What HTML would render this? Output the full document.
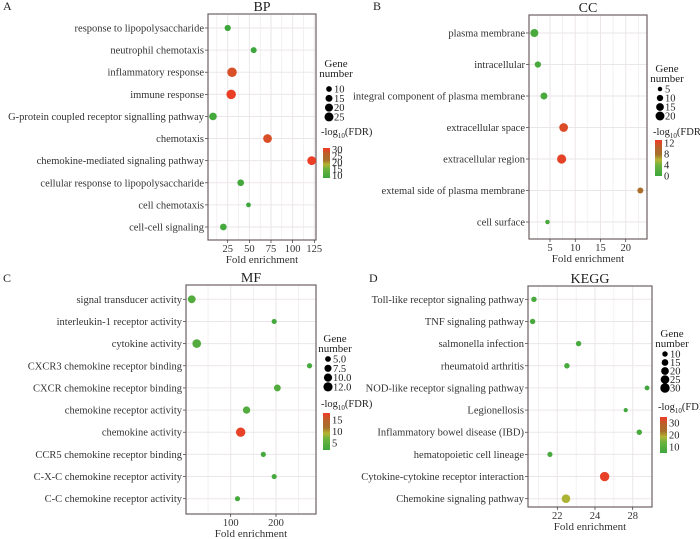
<!DOCTYPE html>
<html><head><meta charset="utf-8">
<style>
html,body{margin:0;padding:0;background:#fff;}
svg{display:block;font-family:"Liberation Serif",serif;}
</style></head>
<body>
<svg id="chart" width="700" height="539" viewBox="0 0 700 539" xmlns="http://www.w3.org/2000/svg">
<defs>
<linearGradient id="cg" x1="0" y1="1" x2="0" y2="0">
<stop offset="0" stop-color="#3da63c"/><stop offset="0.3" stop-color="#6db33f"/>
<stop offset="0.45" stop-color="#b4b432"/><stop offset="0.6" stop-color="#a6702c"/>
<stop offset="0.8" stop-color="#b8622a"/><stop offset="1" stop-color="#ef3a26"/>
</linearGradient>
</defs>
</svg>
<script>
// ---- Panel A (BP)
const bpTerms = ["response to lipopolysaccharide","neutrophil chemotaxis","inflammatory response","immune response","G-protein coupled receptor signalling pathway","chemotaxis","chemokine-mediated signaling pathway","cellular response to lipopolysaccharide","cell chemotaxis","cell-cell signaling"];
const bpFold = [25,55,30,29,8,71,122,40,49,20];
const bpGenes = [12,11,28,28,18,24,24,14,7,14];
const bpFDR = [8,8,27,30,9,27,30,9,8,9];
const bpTicks = [25,50,75,100,125];
const bpTickLabels = ["25","50","75","100","125"];
const bpSizeLegend = [10,15,20,25];
const bpColorTicks = [30,25,20,15,10];
// ---- Panel B (CC)
const ccTerms = ["plasma membrane","intracellular","integral component of plasma membrane","extracellular space","extracellular region","extemal side of plasma membrane","cell surface"];
const ccFold = [1.9,2.6,3.8,7.7,7.3,22.9,4.5];
const ccGenes = [16,10,12,19,21,9,5];
const ccFDR = [1,1,1,11,12,8,1];
const ccTicks = [5,10,15,20];
const ccTickLabels = ["5","10","15","20"];
const ccSizeLegend = [5,10,15,20];
const ccColorTicks = [12,8,4,0];
// ---- Panel C (MF)
const mfTerms = ["signal transducer activity","interleukin-1 receptor activity","cytokine activity","CXCR3 chemokine receptor binding","CXCR chemokine receptor binding","chemokine receptor activity","chemokine activity","CCR5 chemokine receptor binding","C-X-C chemokine receptor activity","C-C chemokine receptor activity"];
const mfFold = [14,196,25,274,203,135,122,172,196,115];
const mfGenes = [9,4,11,4,7,8,13,4,4,4];
const mfFDR = [4,3,4,3,4,4,17,3,3,3];
const mfTicks = [100,200];
const mfTickLabels = ["100","200"];
const mfSizeLegend = [5.0,7.5,10.0,12.5];
const mfSizeLabels = ["5.0","7.5","10.0","12.0"];
const mfColorTicks = [15,10,5];
// ---- Panel D (KEGG)
const kgTerms = ["Toll-like receptor signaling pathway","TNF signaling pathway","salmonella infection","rheumatoid arthritis","NOD-like receptor signaling pathway","Legionellosis","Inflammatory bowel disease (IBD)","hematopoietic cell lineage","Cytokine-cytokine receptor interaction","Chemokine signaling pathway"];
const kgFold = [20.76,20.69,23.13,22.51,26.76,25.63,26.35,21.61,24.51,22.46];
const kgGenes = [10,10,10,10,8,6,10,9,30,25];
const kgFDR = [7,7,7,7,6,6,7,7,33,18];
const kgTicks = [22,24,26];
const kgTickLabels = ["22","24","28"];
const kgSizeLegend = [10,15,20,25,30];
const kgColorTicks = [30,20,10];

const NS="http://www.w3.org/2000/svg";
const svg=document.getElementById('chart');
function el(tag,attrs,parent){const e=document.createElementNS(NS,tag);for(const k in attrs)e.setAttribute(k,attrs[k]);(parent||svg).appendChild(e);return e;}
function txt(s,attrs,parent){const e=el('text',attrs,parent);e.textContent=s;return e;}
function hex(c){return [1,3,5].map(i=>parseInt(c.substr(i,2),16));}
const stops=[[0,"#3da63c"],[0.3,"#6db33f"],[0.45,"#b4b432"],[0.6,"#a6702c"],[0.8,"#d65228"],[1,"#ef3a26"]];
function colorAt(t){t=Math.max(0,Math.min(1,t));for(let i=1;i<stops.length;i++){if(t<=stops[i][0]){const a=stops[i-1],b=stops[i];const f=(t-a[0])/(b[0]-a[0]);const ca=hex(a[1]),cb=hex(b[1]);return 'rgb('+ca.map((v,j)=>Math.round(v+(cb[j]-v)*f)).join(',')+')';}}return stops[stops.length-1][1];}

function panel(o){
  const g=el('g',{});
  
  
  const L=txt(o.letter,{x:o.lx,y:o.ly,'font-size':12,fill:'#222'},g);
  
  const T=txt(o.title,{x:(o.x0+o.x1)/2,y:o.y0-3,'font-size':14,'text-anchor':'middle',fill:'#222'},g);
  
  const xs=v=>o.xa+(v-o.va)*(o.xb-o.xa)/(o.vb-o.va);
  const n=o.terms.length;
  const ys=i=>o.yFirst+i*(o.yLast-o.yFirst)/(n-1);
  const step=o.ticks[1]-o.ticks[0];
  for(let v=o.ticks[0]-step*1.5; v<=o.ticks[o.ticks.length-1]+step*1.5; v+=step/2){
    const x=xs(v); if(x<=o.x0+0.5||x>=o.x1-0.5) continue;
    const major=o.ticks.some(t=>Math.abs(t-v)<1e-9);
    el('line',{x1:x,x2:x,y1:o.y0,y2:o.y1,stroke:'#ebe6ea','stroke-width':major?1:0.6},g);
  }
  o.terms.forEach((t,i)=>{
    el('line',{x1:o.x0,x2:o.x1,y1:ys(i),y2:ys(i),stroke:'#ebe6ea','stroke-width':1},g);
    const lab=txt(t,{x:o.x0-4,y:ys(i)+3.5,'font-size':10.5,'text-anchor':'end',fill:'#333'},g);
    
    el('line',{x1:o.x0-3,x2:o.x0,y1:ys(i),y2:ys(i),stroke:'#333','stroke-width':0.7},g);
  });
  const box=el('rect',{x:o.x0,y:o.y0,width:o.x1-o.x0,height:o.y1-o.y0,fill:'none',stroke:'#6e6262','stroke-width':1.2},g);
  
  o.ticks.forEach((t,i)=>{
    const x=xs(t);
    el('line',{x1:x,x2:x,y1:o.y1,y2:o.y1+3,stroke:'#333','stroke-width':0.7},g);
    const tl=txt(o.tickLabels[i],{x:x,y:o.y1+12,'font-size':10.5,'text-anchor':'middle',fill:'#333'},g);
    
  });
  const xt=txt('Fold enrichment',{x:(o.x0+o.x1)/2,y:o.y1+23,'font-size':11,'text-anchor':'middle',fill:'#333'},g);
  
  const rs=v=>o.k*Math.sqrt(v);
  const cs=v=>colorAt((v-o.cmin)/(o.cmax-o.cmin));
  o.terms.forEach((t,i)=>{
    const c=el('circle',{cx:xs(o.fold[i]),cy:ys(i),r:rs(o.genes[i]),fill:cs(o.fdr[i])},g);
    
    
  });
  const g1=txt('Gene',{x:o.legX+12,y:o.legY,'font-size':11,'text-anchor':'middle',fill:'#222'},g);
  
  txt('number',{x:o.legX+12,y:o.legY+10,'font-size':11,'text-anchor':'middle',fill:'#222'},g);
  o.sizeLegend.forEach((s,i)=>{
    const y=o.dotY+i*o.dotStep;
    const d=el('circle',{cx:o.legX+5,cy:y,r:rs(s),fill:'#000'},g);
    
    txt(o.sizeLabels?o.sizeLabels[i]:String(s),{x:o.legX+10,y:y+3.5,'font-size':10.5,fill:'#222'},g);
  });
  const ct=el('text',{x:o.cbX-2,y:o.cbTitleY,'font-size':10.5,fill:'#222'},g);
  
  ct.innerHTML='-log<tspan font-size="7" dy="3">10</tspan><tspan dy="-3">(FDR)</tspan>';
  const cb=el('rect',{x:o.cbX,y:o.cbY0,width:7,height:o.cbY1-o.cbY0,fill:'url(#cg)'},g);
  
  o.colorTicks.forEach(v=>{
    const y=o.cbY1-(v-o.cmin)/(o.cmax-o.cmin)*(o.cbY1-o.cbY0);
    txt(String(v),{x:o.cbX+9,y:y+3.5,'font-size':10.5,fill:'#222'},g);
  });
}

panel({name:'bp',letter:'A',lx:3,ly:10,title:'BP',x0:208,x1:316,y0:14,y1:240,yFirst:28,yLast:227,
  xa:227.7,va:25,xb:314.3,vb:125,ticks:bpTicks,tickLabels:bpTickLabels,terms:bpTerms,fold:bpFold,genes:bpGenes,fdr:bpFDR,
  k:0.9,cmin:8,cmax:31,sizeLegend:bpSizeLegend,legX:324,legY:67,dotY:89,dotStep:9.3,cbX:323,cbTitleY:135,cbY0:148,cbY1:178,colorTicks:bpColorTicks});
panel({name:'cc',letter:'B',lx:373,ly:10,title:'CC',x0:529,x1:647,y0:15,y1:239,yFirst:33,yLast:222,
  xa:550,va:5,xb:625.7,vb:20,ticks:ccTicks,tickLabels:ccTickLabels,terms:ccTerms,fold:ccFold,genes:ccGenes,fdr:ccFDR,
  k:1.0,cmin:0,cmax:13,sizeLegend:ccSizeLegend,legX:655,legY:72,dotY:89,dotStep:9,cbX:655,cbTitleY:135,cbY0:140,cbY1:176,colorTicks:ccColorTicks});
panel({name:'mf',letter:'C',lx:3,ly:282,title:'MF',x0:186,x1:316,y0:285,y1:514,yFirst:299.3,yLast:498.7,
  xa:230.7,va:100,xb:276,vb:200,ticks:mfTicks,tickLabels:mfTickLabels,terms:mfTerms,fold:mfFold,genes:mfGenes,fdr:mfFDR,
  k:1.3,cmin:2,cmax:18,sizeLegend:mfSizeLegend,sizeLabels:mfSizeLabels,legX:323,legY:342,dotY:359,dotStep:9.3,cbX:323,cbTitleY:407,cbY0:413,cbY1:450,colorTicks:mfColorTicks});
panel({name:'kegg',letter:'D',lx:369,ly:282,title:'KEGG',x0:528,x1:652,y0:286,y1:507,yFirst:299.3,yLast:498.7,
  xa:557.3,va:22,xb:595,vb:24,ticks:kgTicks,tickLabels:kgTickLabels,terms:kgTerms,fold:kgFold,genes:kgGenes,fdr:kgFDR,
  k:0.86,cmin:5,cmax:35,sizeLegend:kgSizeLegend,legX:660,legY:337,dotY:354,dotStep:8.5,cbX:660,cbTitleY:410,cbY0:417,cbY1:453,colorTicks:kgColorTicks});
</script>
</body></html>
